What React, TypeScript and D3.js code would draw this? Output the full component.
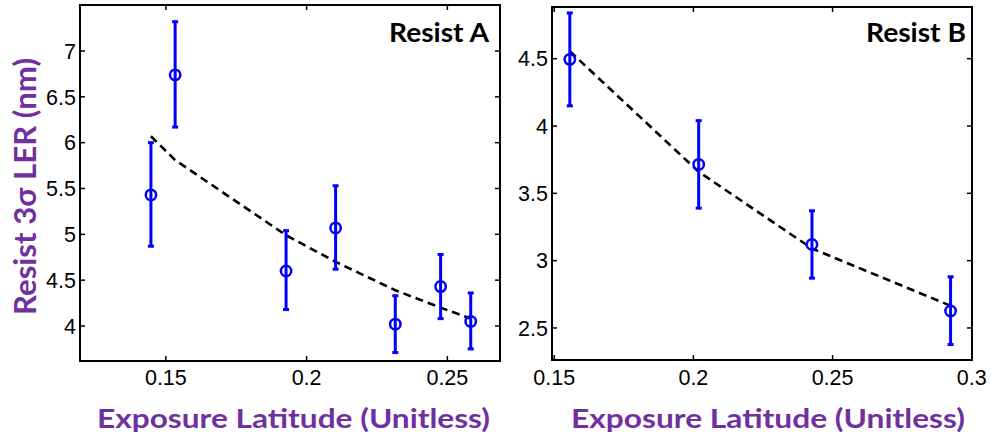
import React from "react";
import * as d3 from "d3";

// Resist A data
const xA = [0.1447, 0.1533, 0.1927, 0.2103, 0.2315, 0.2476, 0.2583];
const yA = [5.43, 6.74, 4.6, 5.07, 4.02, 4.43, 4.05];
const loA = [4.87, 6.17, 4.18, 4.62, 3.71, 4.08, 3.75];
const hiA = [6.0, 7.32, 5.04, 5.53, 4.33, 4.78, 4.36];
const fitA = [6.07, 5.81, 4.99, 4.7, 4.39, 4.2, 4.08];
const xTicksA = [0.15, 0.2, 0.25];
const yTicksA = [4, 4.5, 5, 5.5, 6, 6.5, 7];

// Resist B data
const xB = [0.1556, 0.2019, 0.2426, 0.2924];
const yB = [4.495, 3.715, 3.12, 2.626];
const loB = [4.15, 3.39, 2.87, 2.377];
const hiB = [4.84, 4.04, 3.37, 2.88];
const fitB = [4.555, 3.66, 3.09, 2.665];
const xTicksB = [0.15, 0.2, 0.25, 0.3];
const yTicksB = [2.5, 3, 3.5, 4, 4.5];

const purple = "#7030A0";
const blue = "#0000FF";

type PanelProps = {
  x0: number; x1: number; y0: number; y1: number;
  xd: [number, number]; yd: [number, number];
  xs: number[]; ys: number[]; lo: number[]; hi: number[]; fit: number[];
  xt: number[]; yt: number[]; title: string; titleEnd: number;
};

function Panel(p: PanelProps) {
  const sx = d3.scaleLinear().domain(p.xd).range([p.x0, p.x1]);
  const sy = d3.scaleLinear().domain(p.yd).range([p.y1, p.y0]);
  const line = d3.line<number>().x((_, i) => sx(p.xs[i])).y((d) => sy(d));
  const tl = 5;
  const fmt = (v: number) => String(v);
  return (
    <g>
      {p.xt.map((t) => (
        <g key={"xt" + t}>
          <line x1={sx(t)} x2={sx(t)} y1={p.y1} y2={p.y1 - tl} stroke="#000" strokeWidth={1.5} />
          <line x1={sx(t)} x2={sx(t)} y1={p.y0} y2={p.y0 + tl} stroke="#000" strokeWidth={1.5} />
          <text x={sx(t)} y={385} textAnchor="middle" fontFamily="'Liberation Sans', Arial, sans-serif" fontSize={21.5} fill="#000">{fmt(t)}</text>
        </g>
      ))}
      {p.yt.map((t) => (
        <g key={"yt" + t}>
          <line x1={p.x0} x2={p.x0 + tl} y1={sy(t)} y2={sy(t)} stroke="#000" strokeWidth={1.5} />
          <line x1={p.x1} x2={p.x1 - tl} y1={sy(t)} y2={sy(t)} stroke="#000" strokeWidth={1.5} />
          <text x={p.x0 - 4} y={sy(t)} dy="0.36em" textAnchor="end" fontFamily="'Liberation Sans', Arial, sans-serif" fontSize={21.5} fill="#000">{fmt(t)}</text>
        </g>
      ))}
      <rect x={p.x0} y={p.y0} width={p.x1 - p.x0} height={p.y1 - p.y0} fill="none" stroke="#000" strokeWidth={2} />
      <path d={line(p.fit) || ""} fill="none" stroke="#000" strokeWidth={2.6} strokeDasharray="8,5" />
      {p.xs.map((xv, i) => {
        const cx = sx(xv);
        return (
          <g key={"e" + i}>
            <line x1={cx} x2={cx} y1={sy(p.lo[i])} y2={sy(p.hi[i])} stroke={blue} strokeWidth={3} />
            <line x1={cx - 3} x2={cx + 3} y1={sy(p.lo[i])} y2={sy(p.lo[i])} stroke={blue} strokeWidth={3} />
            <line x1={cx - 3} x2={cx + 3} y1={sy(p.hi[i])} y2={sy(p.hi[i])} stroke={blue} strokeWidth={3} />
            <circle cx={cx} cy={sy(p.ys[i])} r={5.2} fill="none" stroke={blue} strokeWidth={2.5} />
          </g>
        );
      })}
      <text x={p.titleEnd} y={42} textAnchor="end" textLength={100} lengthAdjust="spacingAndGlyphs"
        fontFamily="Lato, 'Open Sans', sans-serif" fontWeight="bold" fontSize={26} fill="#000">{p.title}</text>
    </g>
  );
}

export default function App() {
  return (
    <svg width={991} height={440} style={{ position: "absolute", left: 0, top: 0, background: "#fff" }}>
      <rect width={991} height={440} fill="#fff" />
      <Panel x0={80} x1={500} y0={5} y1={361} xd={[0.1195, 0.2687]} yd={[3.618, 7.502]}
        xs={xA} ys={yA} lo={loA} hi={hiA} fit={fitA} xt={xTicksA} yt={yTicksA} title="Resist A" titleEnd={489} />
      <Panel x0={552} x1={972} y0={7} y1={360} xd={[0.1492, 0.3001]} yd={[2.262, 4.884]}
        xs={xB} ys={yB} lo={loB} hi={hiB} fit={fitB} xt={xTicksB} yt={yTicksB} title="Resist B" titleEnd={966} />
      <text x={293.5} y={428} textAnchor="middle" textLength={393} lengthAdjust="spacingAndGlyphs"
        fontFamily="Lato, 'Open Sans', sans-serif" fontWeight="bold" fontSize={27} fill={purple}>Exposure Latitude (Unitless)</text>
      <text x={768} y={428} textAnchor="middle" textLength={394} lengthAdjust="spacingAndGlyphs"
        fontFamily="Lato, 'Open Sans', sans-serif" fontWeight="bold" fontSize={27} fill={purple}>Exposure Latitude (Unitless)</text>
      <text transform="translate(36,186.5) rotate(-90)" textAnchor="middle" textLength={257} lengthAdjust="spacingAndGlyphs"
        fontFamily="Lato, 'Open Sans', sans-serif" fontWeight="bold" fontSize={31} fill={purple}>Resist 3σ LER (nm)</text>
    </svg>
  );
}
